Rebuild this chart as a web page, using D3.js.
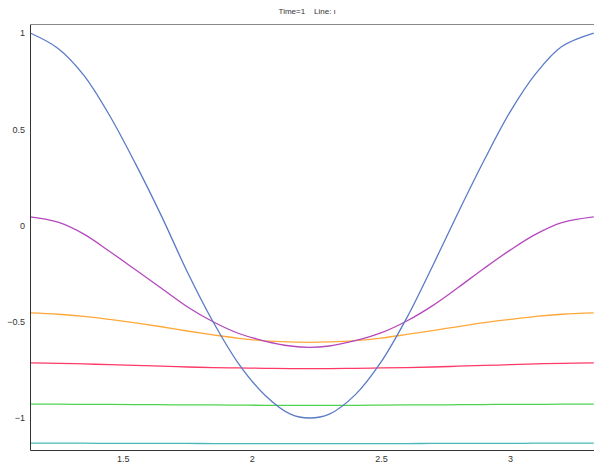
<!DOCTYPE html>
<html>
<head>
<meta charset="utf-8">
<script src="https://cdn.jsdelivr.net/npm/d3@7"></script>
<style>
    body { margin:0; background:#fff; }
    text { font-family:"Liberation Sans", Arial, sans-serif; fill:#333; }
</style>
</head>
<body>
<div id="chart"></div>
<script>
// x positions of the samples
var xs = [1.142, 1.25, 1.35, 1.45, 1.55, 1.65, 1.75, 1.85, 1.95, 2.05, 2.15, 2.222,
          2.3, 2.4, 2.5, 2.6, 2.7, 2.8, 2.9, 3.0, 3.1, 3.2, 3.324];
// series values
var blueVals   = [1.00, 0.92, 0.78, 0.57, 0.32, 0.05, -0.24, -0.50, -0.72, -0.88, -0.98, -1.00,
                  -0.98, -0.88, -0.71, -0.48, -0.21, 0.07, 0.34, 0.59, 0.79, 0.93, 1.00];
var purpleVals = [0.045, 0.017, -0.045, -0.135, -0.23, -0.326, -0.422, -0.50, -0.561, -0.600, -0.626, -0.633,
                  -0.626, -0.598, -0.558, -0.496, -0.416, -0.321, -0.222, -0.128, -0.045, 0.015, 0.045];
var orangeVals = [-0.454, -0.461, -0.472, -0.488, -0.506, -0.526, -0.548, -0.568, -0.586, -0.599, -0.605, -0.607,
                  -0.605, -0.598, -0.585, -0.566, -0.546, -0.525, -0.505, -0.488, -0.472, -0.461, -0.454];
var redVals    = [-0.714, -0.716, -0.719, -0.723, -0.727, -0.731, -0.735, -0.738, -0.740, -0.742, -0.743, -0.743,
                  -0.743, -0.742, -0.740, -0.738, -0.735, -0.731, -0.727, -0.723, -0.719, -0.716, -0.714];
var greenVals  = [-0.928, -0.928, -0.929, -0.929, -0.930, -0.931, -0.932, -0.932, -0.933, -0.934, -0.934, -0.934,
                  -0.934, -0.934, -0.933, -0.932, -0.932, -0.931, -0.930, -0.929, -0.929, -0.928, -0.928];
var tealVals   = [-1.131, -1.131, -1.131, -1.132, -1.132, -1.132, -1.132, -1.133, -1.133, -1.133, -1.133, -1.133,
                  -1.133, -1.133, -1.133, -1.133, -1.132, -1.132, -1.132, -1.132, -1.131, -1.131, -1.131];
var seriesColors = ["#5a7bc6", "#b548bd", "#ffa83a", "#ff3a67", "#4fd34f", "#4ab8b8"];
var xTicks = [1.5, 2, 2.5, 3];
var yTicks = [1, 0.5, 0, -0.5, -1];
var title = "Time=1    Line: \u03b9";

var CHART = {
    width:594,
    height:466,
    margin:{top:24, right:0, bottom:16, left:30},
    /****
     * 画布
     */
    init:function () {
        var svg = d3.select("#chart").append("svg")
            .attr("width", CHART.width)
            .attr("height", CHART.height);
        CHART.x = d3.scaleLinear().domain([1.1413, 3.3248])
            .range([CHART.margin.left, CHART.width - CHART.margin.right]);
        CHART.y = d3.scaleLinear().domain([-1.1662, 1.0468])
            .range([CHART.height - CHART.margin.bottom, CHART.margin.top]);
        return svg;
    },
    /****
     * 坐标轴
     */
    drawAxes:function (svg) {
        var x = CHART.x, y = CHART.y;
        var bottom = CHART.height - CHART.margin.bottom;
        var gx = svg.append("g").attr("transform", "translate(0," + bottom + ")")
            .call(d3.axisBottom(x).tickValues(xTicks).tickSize(0).tickPadding(6).tickFormat(d3.format("")));
        gx.select(".domain").attr("stroke", "#333");
        var gy = svg.append("g").attr("transform", "translate(" + CHART.margin.left + ",0)")
            .call(d3.axisLeft(y).tickValues(yTicks).tickSize(0).tickPadding(5).tickFormat(d3.format("")));
        gy.select(".domain").attr("stroke", "#333");
        svg.selectAll(".tick text").attr("font-size", 9).attr("font-family", "Liberation Sans, Arial, sans-serif").attr("fill", "#333");
        // 上边框
        svg.append("line")
            .attr("x1", x.range()[0]).attr("x2", x.range()[1])
            .attr("y1", CHART.margin.top + 0.5).attr("y2", CHART.margin.top + 0.5)
            .attr("stroke", "#888").attr("stroke-width", 1.2);
        svg.append("text")
            .attr("x", 307).attr("y", 14)
            .attr("text-anchor", "middle")
            .attr("font-size", 8)
            .style("white-space", "pre")
            .text(title);
    },
    /****
     * 曲线
     */
    drawLines:function (svg) {
        var all = [tealVals, greenVals, redVals, orangeVals, purpleVals, blueVals];
        var cols = seriesColors.slice().reverse();
        var line = d3.line()
            .x(function (d) { return CHART.x(d[0]); })
            .y(function (d) { return CHART.y(d[1]); })
            .curve(d3.curveCatmullRom);
        for (var i = 0; i < all.length; i++) {
            var pts = xs.map(function (v, j) { return [v, all[i][j]]; });
            svg.append("path")
                .attr("d", line(pts))
                .attr("fill", "none")
                .attr("stroke", cols[i])
                .attr("stroke-width", 1.3);
        }
    }
};

var svg = CHART.init();
CHART.drawLines(svg);
CHART.drawAxes(svg);
</script>
</body>
</html>
